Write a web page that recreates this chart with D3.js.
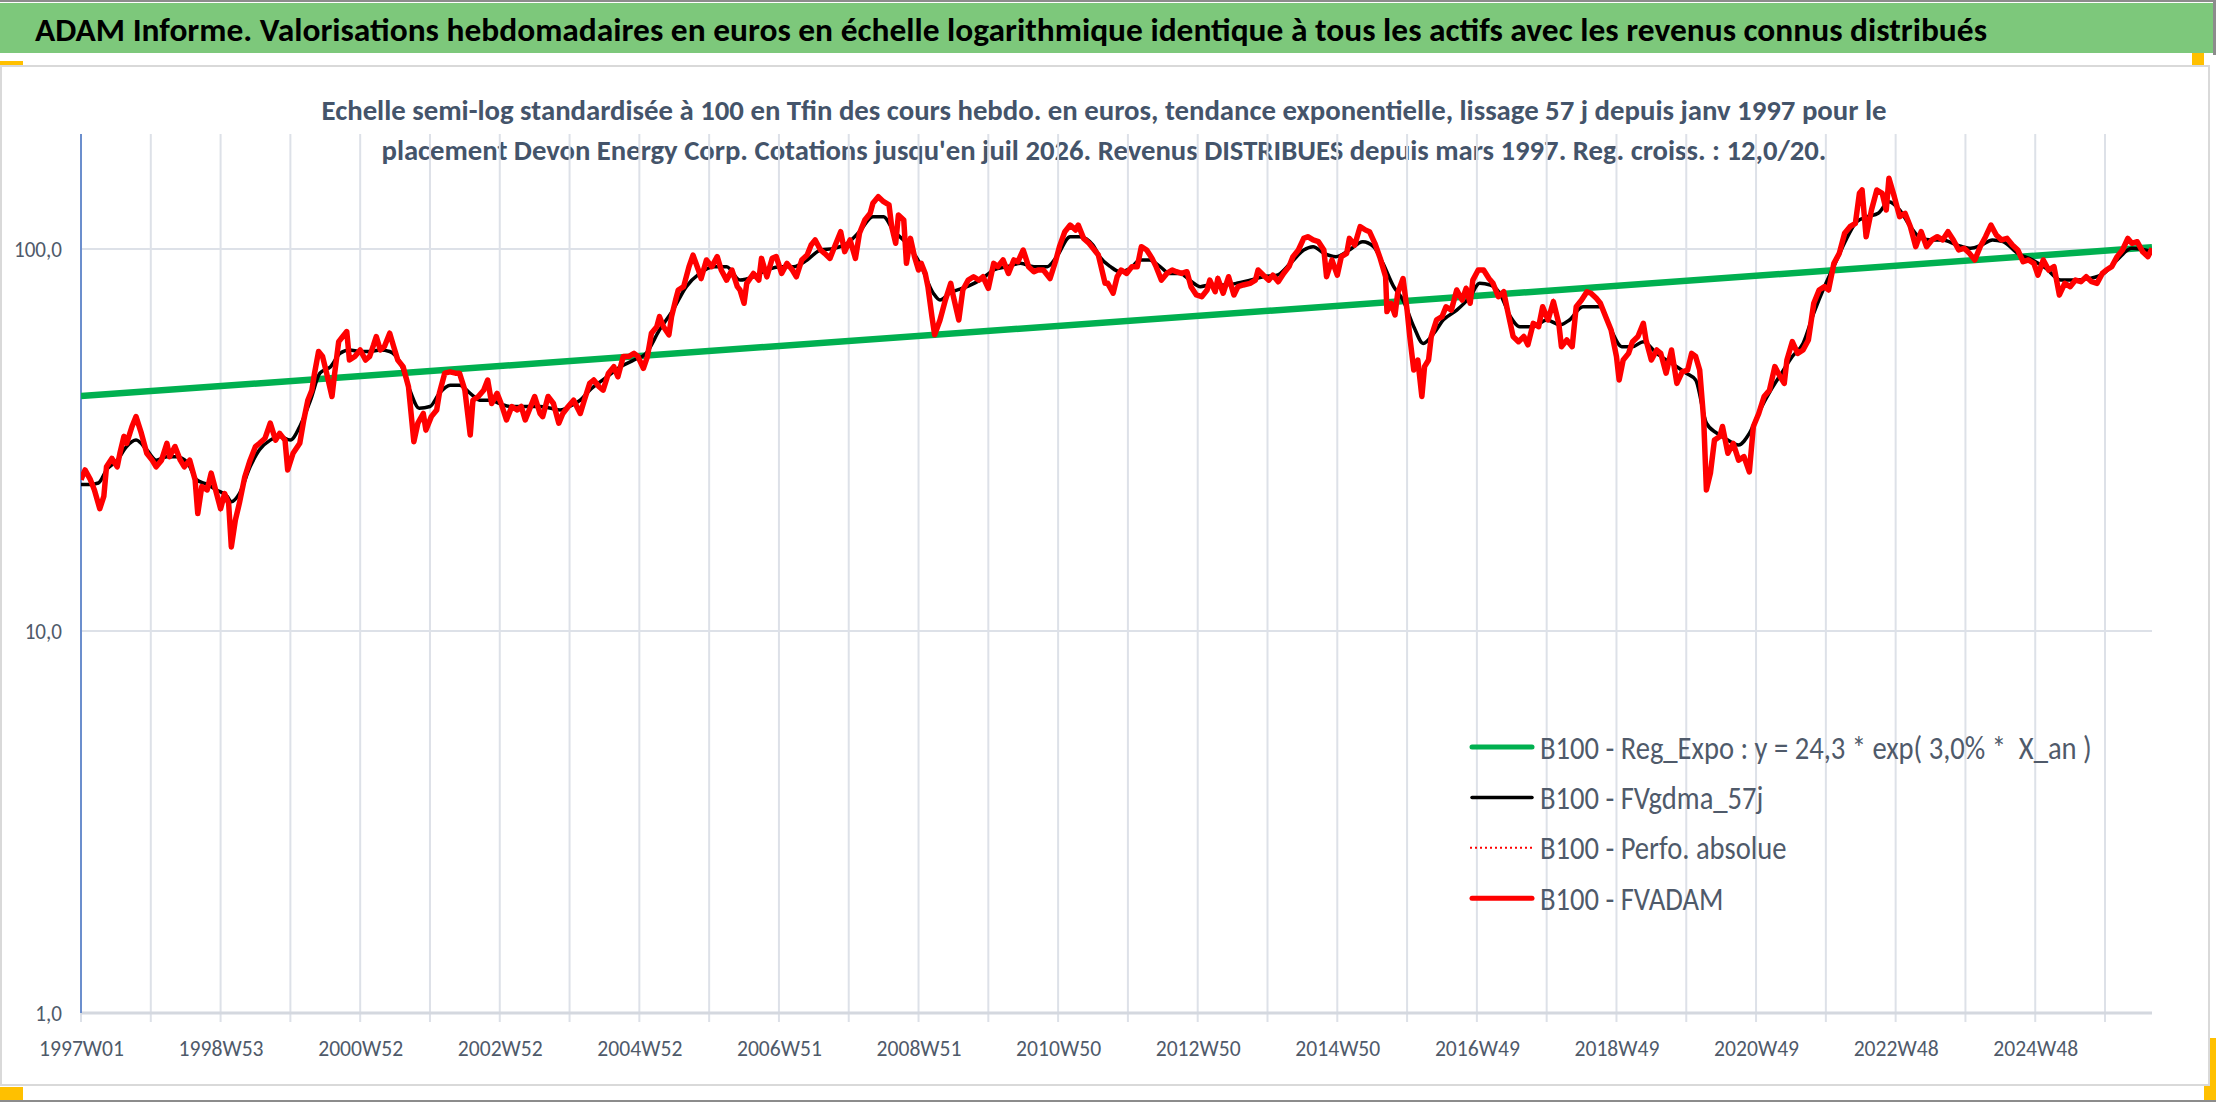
<!DOCTYPE html>
<html lang="fr">
<head>
<meta charset="UTF-8">
<title>ADAM Informe - Devon Energy Corp.</title>
<script src="https://d3js.org/d3.v7.min.js"></script>
<style>
  body { margin: 0; background: #fff; }
  svg { display: block; font-family: Carlito, Lato, "Open Sans", sans-serif; }
  .legend text { white-space: pre; }
</style>
</head>
<body>
<script>
// ---- texts ----
const titleText = "ADAM Informe. Valorisations hebdomadaires en euros en échelle logarithmique identique à tous les actifs avec les revenus connus distribués";
const subtitleLines = [
  "Echelle semi-log standardisée à 100 en Tfin des cours hebdo. en euros, tendance exponentielle, lissage 57 j depuis janv 1997 pour le",
  "placement Devon Energy Corp. Cotations jusqu'en juil 2026. Revenus DISTRIBUES depuis mars 1997. Reg. croiss. : 12,0/20."
];

// ---- axes ----
const xTickLabels = ["1997W01", "1998W53", "2000W52", "2002W52", "2004W52", "2006W51", "2008W51",
  "2010W50", "2012W50", "2014W50", "2016W49", "2018W49", "2020W49", "2022W48", "2024W48"];
const weekCount = 1544;   // weekly categories, 1997W01 .. juil 2026
const labelEvery = 104;   // one label every 104 weeks
const gridEvery = 52;     // one tick / gridline every 52 weeks
const yTicks = [1, 10, 100];
const yMax = 200;

// ---- series: [week index, value] ----
const regExpo = [[0, 41.2], [1543, 101.0]];

const fvgdma = [
  [0,24.2],[7,24.2],[13,24.4],[19,26.4],[27,28.0],[34,30.4],[41,31.6],[49,29.8],[56,28.0],[64,28.6],
  [71,28.6],[79,27.7],[86,24.9],[94,24.2],[101,23.4],[109,22.5],[112,21.8],[118,22.9],[126,26.9],[133,29.8],
  [141,31.6],[148,32.3],[156,31.6],[163,34.3],[171,40.2],[178,47.3],[186,49.2],[193,53.3],[200,54.4],[208,53.9],
  [215,53.9],[223,54.4],[230,53.9],[238,50.2],[245,42.7],[252,38.3],[260,38.7],[267,41.9],[275,44.0],[282,44.0],
  [290,41.9],[297,40.2],[305,40.2],[312,39.4],[320,38.7],[327,38.7],[335,38.7],[342,38.7],[350,38.3],[357,37.9],
  [364,38.7],[372,40.2],[379,42.7],
  [382,43.6],[392,46.3],[402,49.2],[412,51.2],[421,53.3],[431,61.4],[441,69.2],[451,79.7],[461,86.3],[471,89.9],
  [481,89.9],[491,82.9],[501,84.6],[511,88.1],[521,89.9],[531,89.9],[541,93.6],[551,99.4],[561,100.4],[571,103.5],
  [580,111.0],[590,121.5],[598,121.5],[605,112.1],[615,103.5],[625,91.7],[635,76.6],[640,73.5],[647,76.6],[660,79.7],
  [670,82.9],[680,88.1],[690,89.9],[700,91.7],[710,89.9],[720,89.9],[727,95.5],[737,107.7],[744,107.7],[754,102.4],
  [759,95.5],[767,89.9],[774,87.2],[782,89.0],[789,93.6],[796,93.6],[804,89.9],[811,86.3],[819,86.3],[826,82.9],
  [834,79.7],[841,80.5],[851,80.5],[861,81.3],[871,82.9],[881,84.6],[891,85.4],[901,91.7],[911,99.4],[918,101.4],
  [926,97.4],[935,95.5],[945,99.4],[955,104.5],[963,101.4],[970,91.7],[978,79.7],[985,73.5],[993,62.6],[1000,56.6],
  [1008,60.2],[1015,65.2],[1025,69.2],[1035,75.0],[1042,81.3],[1050,80.5],[1057,76.6],[1065,66.5],[1072,62.6],[1082,62.6],
  [1092,65.2],[1102,63.3],[1109,65.2],[1119,70.6],[1127,70.6],
  [1132,70.6],[1140,61.4],[1148,55.5],[1156,55.5],[1164,57.2],[1174,53.3],[1185,50.2],[1196,47.3],[1203,45.4],[1211,35.0],
  [1219,32.9],[1227,31.6],[1235,30.7],[1243,32.9],[1251,37.9],[1259,42.7],[1267,47.3],[1275,52.3],[1283,56.6],[1291,67.9],
  [1299,79.7],[1307,91.7],[1315,105.6],[1323,117.9],[1331,121.5],[1339,124.0],[1347,133.0],[1355,126.5],[1363,114.4],[1371,106.6],
  [1379,105.6],[1387,105.6],[1398,102.4],[1408,100.4],[1416,102.4],[1424,105.6],[1432,104.5],[1443,97.4],[1454,93.6],[1464,89.0],
  [1475,82.9],[1485,82.9],[1496,83.7],[1507,86.3],[1517,93.6],[1528,100.4],[1543,98.4]
];

const fvadam = [
  [0,24.9],[3,26.4],[7,24.9],[10,23.4],[14,20.9],[17,22.5],[19,26.9],[23,28.3],[27,26.9],[29,29.2],
  [32,32.3],[34,31.0],[38,34.3],[41,36.4],[45,32.9],[49,29.2],[53,28.0],[56,26.9],[60,28.0],[64,31.0],
  [66,28.6],[70,30.4],[74,28.0],[77,26.9],[81,28.0],[85,24.9],[87,20.3],[90,23.9],[94,23.4],[97,25.9],
  [101,22.9],[104,20.9],[107,22.9],[110,21.6],[112,16.6],[115,19.5],[118,21.6],[122,25.3],[126,28.0],[130,30.4],
  [133,31.0],[137,31.9],[141,35.0],[145,31.6],[148,32.9],[152,31.6],[154,26.4],[158,29.2],[163,31.0],[166,35.7],
  [169,40.2],[172,42.7],[174,47.3],[177,53.9],[180,52.3],[183,47.3],[187,41.1],[189,47.3],[192,57.2],[194,58.4],
  [198,60.8],[200,51.2],[204,52.3],[208,54.4],[212,51.2],[215,52.3],[218,56.1],[220,59.0],[223,54.4],[226,55.5],
  [230,60.2],[233,55.5],[236,51.2],[240,49.2],[244,43.6],[248,31.3],[251,35.0],[255,37.1],[257,33.6],[261,36.4],
  [265,37.9],[267,41.9],[271,47.3],[275,47.7],[279,47.3],[282,47.3],[286,42.7],[290,32.6],[292,40.2],[296,41.1],
  [300,42.7],[303,45.4],[306,39.4],[310,41.9],[313,39.4],[317,35.7],[321,38.7],[325,37.9],[328,38.7],[331,35.7],
  [335,38.7],[338,41.1],[342,37.1],[344,36.4],[348,41.1],[352,39.4],[356,35.0],[359,37.1],[363,38.7],[367,40.2],
  [372,37.1],[375,40.2],[379,44.5],
  [382,45.4],[386,43.6],[389,42.7],[393,47.3],[397,49.2],[400,46.3],[404,52.3],[408,52.3],[412,53.3],[415,52.3],
  [419,48.7],[422,52.3],[425,60.2],[429,62.6],[431,66.5],[434,62.6],[438,59.6],[440,66.5],[443,73.5],[445,78.1],
  [449,79.7],[453,89.9],[456,96.4],[460,88.1],[462,83.7],[466,93.6],[470,89.9],[474,95.5],[477,88.1],[481,82.9],
  [485,88.1],[489,79.7],[491,78.1],[494,72.1],[496,81.3],[501,86.3],[505,82.9],[507,94.5],[511,84.6],[515,94.5],
  [518,95.5],[522,86.3],[526,91.7],[530,88.1],[533,84.6],[537,93.6],[541,96.4],[544,102.4],[547,105.6],[551,99.4],
  [554,97.4],[558,94.5],[562,102.4],[566,111.0],[569,98.4],[573,105.6],[577,94.5],[580,109.9],[584,119.1],[588,124.0],
  [590,131.7],[594,137.1],[598,133.0],[602,130.4],[604,114.4],[607,103.5],[609,122.7],[613,119.1],[615,91.7],[618,106.6],
  [621,95.5],[624,88.1],[626,91.7],[629,86.3],[631,79.7],[634,66.5],[636,59.6],[640,65.2],[644,73.5],[648,81.3],
  [650,75.0],[654,65.2],[657,78.1],[661,82.9],[665,84.6],[669,82.9],[672,84.6],[676,78.9],[680,91.7],[683,89.9],
  [687,93.6],[691,86.3],[695,93.6],[698,92.6],[702,99.4],[706,89.9],[710,87.2],[713,88.1],[717,88.1],[722,83.7],
  [726,92.6],[729,101.4],[733,111.0],[737,115.5],[741,112.1],[743,115.5],[747,106.6],[751,103.5],[754,100.4],[758,96.4],
  [763,81.3],[765,81.3],[769,76.6],[772,84.6],[775,88.1],[779,86.3],[783,89.9],[787,89.9],[790,101.4],[794,99.4],
  [798,94.5],[801,89.9],[805,82.9],[809,86.3],[813,88.1],[816,87.2],[820,86.3],[824,87.2],[827,79.7],[831,75.8],
  [835,75.0],[839,78.1],[841,82.9],[845,77.3],[847,83.7],[851,76.6],[855,84.6],[859,75.8],[862,79.7],[866,80.5],
  [871,81.3],[875,82.9],[877,88.1],[881,85.4],[885,82.9],[888,85.4],[892,82.1],[896,86.3],[900,89.9],[903,95.5],
  [907,99.4],[911,106.6],[914,107.7],[918,105.6],[922,104.5],[926,99.4],[928,84.6],[932,93.6],[936,85.4],[939,95.5],
  [943,97.4],[945,106.6],[949,102.4],[953,114.4],[957,112.1],[960,111.0],[964,103.5],[968,94.5],[972,84.6],[973,68.6],
  [976,72.1],[979,67.2],[981,76.6],[985,83.7],[988,69.2],[990,59.0],[993,48.2],[996,51.2],[999,41.1],[1001,49.2],
  [1004,51.2],[1006,59.0],[1010,65.2],[1014,66.5],[1017,70.6],[1021,69.2],[1025,78.1],[1029,73.5],[1032,78.9],[1035,72.1],
  [1037,82.9],[1041,88.1],[1045,88.1],[1049,83.7],[1052,81.3],[1056,75.0],[1060,77.3],[1063,68.6],[1067,59.0],[1071,57.2],
  [1075,59.0],[1078,56.1],[1082,63.9],[1086,62.6],[1089,70.6],[1093,65.2],[1097,72.8],[1101,63.9],[1103,55.5],[1107,57.8],
  [1111,55.5],[1114,70.6],[1118,73.5],[1122,77.3],[1125,76.6],[1129,74.3],
  [1132,72.1],[1136,66.5],[1140,61.4],[1144,52.3],[1146,45.4],[1149,51.2],[1153,53.3],[1156,57.2],[1160,59.0],[1164,63.9],
  [1166,57.8],[1170,51.2],[1174,54.4],[1177,53.3],[1181,47.3],[1185,54.4],[1189,44.5],[1193,47.7],[1197,48.2],[1200,53.3],
  [1203,52.3],[1206,48.2],[1209,35.7],[1211,23.4],[1214,25.9],[1217,31.6],[1221,32.3],[1223,34.3],[1227,29.2],[1231,31.0],
  [1235,28.0],[1239,28.6],[1243,26.1],[1246,34.3],[1250,37.1],[1254,41.1],[1258,42.7],[1262,49.2],[1266,46.3],[1269,44.5],
  [1271,51.2],[1275,57.2],[1279,53.3],[1283,54.4],[1287,57.8],[1291,72.1],[1295,78.1],[1299,79.7],[1302,78.1],[1306,91.7],
  [1310,97.4],[1314,109.9],[1318,114.4],[1322,116.7],[1325,139.9],[1327,142.7],[1330,107.7],[1334,126.5],[1338,142.7],[1342,139.9],
  [1345,126.5],[1347,153.1],[1351,137.1],[1355,121.5],[1359,124.0],[1363,114.4],[1367,101.4],[1371,111.0],[1375,101.4],[1379,105.6],
  [1383,107.7],[1387,105.6],[1391,111.0],[1395,105.6],[1399,99.4],[1403,100.4],[1407,97.4],[1411,93.6],[1415,101.4],[1419,107.7],
  [1423,115.5],[1427,108.8],[1431,105.6],[1435,106.6],[1439,102.4],[1443,99.4],[1447,92.6],[1451,93.6],[1455,91.7],[1458,85.4],
  [1462,93.6],[1466,88.1],[1470,89.9],[1474,75.8],[1478,81.3],[1482,79.7],[1486,82.9],[1490,82.1],[1494,84.6],[1498,82.1],
  [1502,81.3],[1506,86.3],[1509,88.1],[1513,89.9],[1517,95.5],[1521,99.4],[1525,106.6],[1528,103.5],[1532,104.5],[1536,98.4],
  [1540,95.5],[1543,100.4]
];

// the "Perfo. absolue" series sits exactly under FVADAM
const perfoAbsolue = fvadam;

const legendLabels = [
  "B100 - Reg_Expo : y = 24,3 * exp( 3,0% *  X_an )",
  "B100 - FVgdma_57j",
  "B100 - Perfo. absolue",
  "B100 - FVADAM"
];

// ---- layout ----
const W = 2216, H = 1102;
const plot = { left: 81, right: 2152, top: 134, bottom: 1013 };

const svg = d3.select("body").append("svg")
    .attr("width", W)
    .attr("height", H);

svg.append("rect").attr("width", W).attr("height", H).attr("fill", "#fff");

// frame lines of the screenshot
svg.append("rect").attr("x", 0).attr("y", 0).attr("width", W).attr("height", 2).attr("fill", "#8c8c8c");
svg.append("rect").attr("x", 0).attr("y", H - 2).attr("width", W).attr("height", 2).attr("fill", "#8c8c8c");

// green title band
svg.append("rect")
    .attr("x", 0).attr("y", 3)
    .attr("width", 2213).attr("height", 50)
    .attr("fill", "#7dc87b");
svg.append("rect").attr("x", 2213).attr("y", 0).attr("width", 3).attr("height", 55).attr("fill", "#8c8c8c");

// selection handles
svg.append("rect").attr("x", 0).attr("y", 61).attr("width", 23).attr("height", 6).attr("fill", "#ffc000");
svg.append("rect").attr("x", 2192).attr("y", 53).attr("width", 12).attr("height", 15).attr("fill", "#ffc000");
svg.append("rect").attr("x", 0).attr("y", 1087).attr("width", 23).attr("height", 13).attr("fill", "#ffc000");
svg.append("rect").attr("x", 2204).attr("y", 1038).attr("width", 12).attr("height", 62).attr("fill", "#ffc000");

// chart area
svg.append("rect")
    .attr("x", 1).attr("y", 66)
    .attr("width", 2208).attr("height", 1019)
    .attr("fill", "#fff")
    .attr("stroke", "#d9d9d9")
    .attr("stroke-width", 2);

// title
svg.append("text")
    .attr("x", 35).attr("y", 41)
    .attr("font-size", 32)
    .attr("font-weight", "bold")
    .attr("fill", "#000")
    .attr("textLength", 1952)
    .attr("lengthAdjust", "spacingAndGlyphs")
    .text(titleText);

// subtitle
const subWidths = [1565, 1445];
svg.selectAll(".subtitle")
    .data(subtitleLines)
    .enter()
    .append("text")
    .attr("class", "subtitle")
    .attr("x", 1104)
    .attr("y", (d, i) => 120 + i * 40)
    .attr("text-anchor", "middle")
    .attr("font-size", 28)
    .attr("font-weight", "bold")
    .attr("fill", "#44546a")
    .attr("textLength", (d, i) => subWidths[i])
    .attr("lengthAdjust", "spacingAndGlyphs")
    .text(d => d);

// scales
const x = d3.scaleLinear()
    .domain([0, weekCount - 1])
    .range([plot.left, plot.right]);

const y = d3.scaleLog()
    .domain([1, yMax])
    .range([plot.bottom, plot.top]);

// squeeze a text selection so that the reference string gets the target width
function squeeze(sel, k) {
    sel.each(function () {
        const w = this.getComputedTextLength();
        d3.select(this)
            .attr("textLength", w * k)
            .attr("lengthAdjust", "spacingAndGlyphs");
    });
}
function measure(str, size, weight) {
    const t = svg.append("text").attr("font-size", size).attr("font-weight", weight || "normal").text(str);
    const w = t.node().getComputedTextLength();
    t.remove();
    return w;
}

// gridlines
const gridWeeks = d3.range(0, weekCount, gridEvery);
svg.append("g")
    .selectAll("line")
    .data(gridWeeks)
    .enter()
    .append("line")
    .attr("x1", d => x(d)).attr("x2", d => x(d))
    .attr("y1", plot.top).attr("y2", plot.bottom + 9)
    .attr("stroke", "#dde1e8")
    .attr("stroke-width", 2);

svg.append("g")
    .selectAll("line")
    .data(yTicks.slice(1))
    .enter()
    .append("line")
    .attr("x1", plot.left).attr("x2", plot.right)
    .attr("y1", d => y(d)).attr("y2", d => y(d))
    .attr("stroke", "#dde1e8")
    .attr("stroke-width", 2);

// bottom axis line
svg.append("line")
    .attr("x1", plot.left).attr("x2", plot.right)
    .attr("y1", plot.bottom).attr("y2", plot.bottom)
    .attr("stroke", "#d4d8df")
    .attr("stroke-width", 3);

// x axis labels
const xAxis = d3.axisBottom(x)
    .tickValues(d3.range(0, weekCount, labelEvery))
    .tickFormat((d, i) => xTickLabels[i])
    .tickSize(0);

const gx = svg.append("g")
    .attr("transform", `translate(0,${plot.bottom})`)
    .call(xAxis);
gx.select(".domain").remove();
gx.selectAll("text")
    .attr("y", 43)
    .attr("dy", 0)
    .attr("font-size", 22)
    .attr("font-family", "Carlito, Lato, sans-serif")
    .attr("fill", "#4f5a6a");
squeeze(gx.selectAll("text"), 85 / measure("1997W01", 22));

// y axis
const fr = d3.formatLocale({ decimal: ",", thousands: " ", grouping: [3], currency: ["", " €"] });
const yAxis = d3.axisLeft(y)
    .tickValues(yTicks)
    .tickFormat(fr.format(".1f"))
    .tickSize(0);

const gy = svg.append("g")
    .attr("transform", `translate(${plot.left},0)`)
    .call(yAxis);
gy.select(".domain").remove();
gy.selectAll("text")
    .attr("x", -19)
    .attr("dy", "0.35em")
    .attr("font-size", 22)
    .attr("font-family", "Carlito, Lato, sans-serif")
    .attr("fill", "#4f5a6a");
squeeze(gy.selectAll("text"), 48 / measure("100,0", 22));

svg.append("line")
    .attr("x1", plot.left).attr("x2", plot.left)
    .attr("y1", plot.top).attr("y2", plot.bottom)
    .attr("stroke", "#4472c4")
    .attr("stroke-width", 1.5);

// clip
svg.append("clipPath").attr("id", "plotClip")
    .append("rect")
    .attr("x", plot.left).attr("y", plot.top)
    .attr("width", plot.right - plot.left).attr("height", plot.bottom - plot.top);

const lines = svg.append("g").attr("clip-path", "url(#plotClip)");

const lineGen = d3.line()
    .x(d => x(d[0]))
    .y(d => y(d[1]));

lines.append("path")
    .datum(regExpo)
    .attr("fill", "none")
    .attr("stroke", "#00b050")
    .attr("stroke-width", 6.5)
    .attr("d", lineGen);

lines.append("path")
    .datum(fvgdma)
    .attr("fill", "none")
    .attr("stroke", "#000")
    .attr("stroke-width", 3.5)
    .attr("stroke-linejoin", "round")
    .attr("d", lineGen.curve(d3.curveMonotoneX));

lineGen.curve(d3.curveLinear);

lines.append("path")
    .datum(perfoAbsolue)
    .attr("fill", "none")
    .attr("stroke", "#ff0000")
    .attr("stroke-width", 2)
    .attr("stroke-dasharray", "2,3")
    .attr("d", lineGen);

lines.append("path")
    .datum(fvadam)
    .attr("fill", "none")
    .attr("stroke", "#ff0000")
    .attr("stroke-width", 5.5)
    .attr("stroke-linejoin", "round")
    .attr("d", lineGen);

// legend
const legendStyles = [
    { color: "#00b050", width: 5, dash: null },
    { color: "#000", width: 3.5, dash: null },
    { color: "#ff0000", width: 2, dash: "2,3" },
    { color: "#ff0000", width: 5, dash: null }
];

const legend = svg.append("g").attr("class", "legend");
const rows = legend.selectAll("g")
    .data(legendLabels)
    .enter()
    .append("g")
    .attr("transform", (d, i) => `translate(0,${747 + i * 50.4})`);

rows.append("line")
    .attr("x1", (d, i) => legendStyles[i].dash ? 1470 : 1472)
    .attr("x2", 1532)
    .attr("y1", 0).attr("y2", 0)
    .attr("stroke", (d, i) => legendStyles[i].color)
    .attr("stroke-width", (d, i) => legendStyles[i].width)
    .attr("stroke-linecap", (d, i) => legendStyles[i].dash ? "butt" : "round")
    .attr("stroke-dasharray", (d, i) => legendStyles[i].dash);

rows.append("text")
    .attr("x", 1540)
    .attr("dy", "0.36em")
    .attr("font-size", 32)
    .attr("fill", "#4f5a6a")
    .text(d => d);
squeeze(rows.selectAll("text"), 59 / measure("B100", 32));
</script>
</body>
</html>
